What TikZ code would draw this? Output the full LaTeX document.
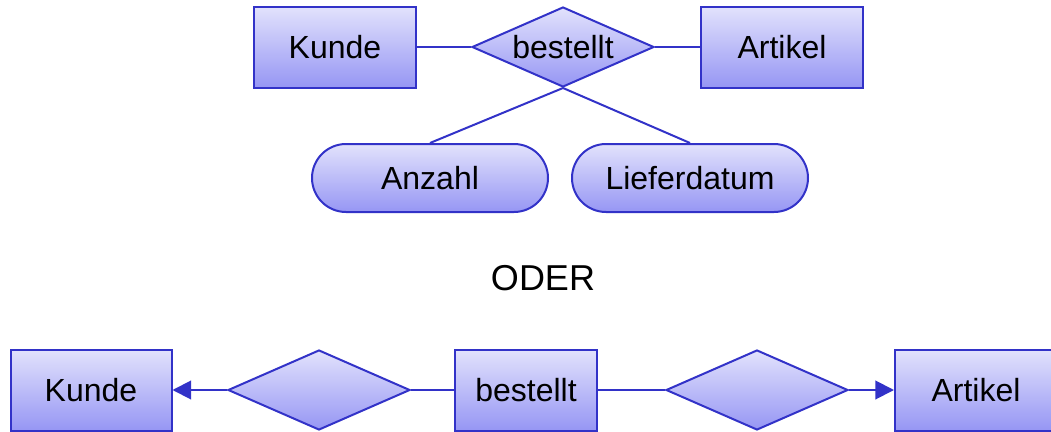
\documentclass[tikz,border=0pt]{standalone}
\usepackage{fontspec}
\setmainfont{Liberation Sans}
\usepackage{tikz}
\usetikzlibrary{arrows.meta,shapes,positioning}
\definecolor{erline}{RGB}{50,50,200}
\definecolor{ertop}{RGB}{226,226,252}
\definecolor{erbottom}{RGB}{150,150,244}
\tikzset{
  basic/.style  = {draw=erline, line width=1.5pt, top color=ertop, bottom color=erbottom,
                   font=\fontsize{24}{28}\selectfont, inner sep=0pt},
  entity/.style = {basic, rectangle, minimum width=121.5pt, minimum height=60.75pt},
  relation/.style = {basic, diamond, minimum width=136.5pt, minimum height=60pt},
  attribute/.style = {basic, rectangle, rounded corners=25.5pt, minimum width=177pt,
                   minimum height=51pt},
  link/.style = {draw=erline, line width=1.5pt},
  pointer/.style = {link, -{Triangle[length=14pt,width=14pt]}}
}
\begin{document}
\begin{tikzpicture}[x=0.75pt,y=-0.75pt]
\useasboundingbox (0,0) rectangle (1051,432);

% upper variant: relationship with attributes
\node[entity] (kunde1) at (335,47) {Kunde};
\node[relation, label={[font=\fontsize{24}{28}\selectfont]center:bestellt}] (rel1) at (563,47) {};
\node[entity] (artikel1) at (782,47) {Artikel};
\node[attribute] (anzahl) at (430,178) {Anzahl};
\node[attribute] (liefer) at (690,178) {Lieferdatum};

\draw[link] (kunde1) -- (rel1);
\draw[link] (rel1) -- (artikel1);
\draw[link] (anzahl.north) -- (rel1.south);
\draw[link] (liefer.north) -- (rel1.south);

\node[font=\fontsize{27}{32}\selectfont] (oder) at (543,278) {ODER};

% lower variant: relationship as entity
\node[entity, minimum width=120.75pt] (kunde2) at (91,390) {Kunde};
\node[relation] (rel2) at (319,390) {};
\node[entity, minimum width=106.5pt] (bestellt2) at (526,390) {bestellt};
\node[relation] (rel3) at (757,390) {};
\node[entity] (artikel2) at (976,390) {Artikel};

\draw[pointer] (rel2) -- (kunde2);
\draw[link] (rel2) -- (bestellt2);
\draw[link] (bestellt2) -- (rel3);
\draw[pointer] (rel3) -- (artikel2);

\end{tikzpicture}
\end{document}
